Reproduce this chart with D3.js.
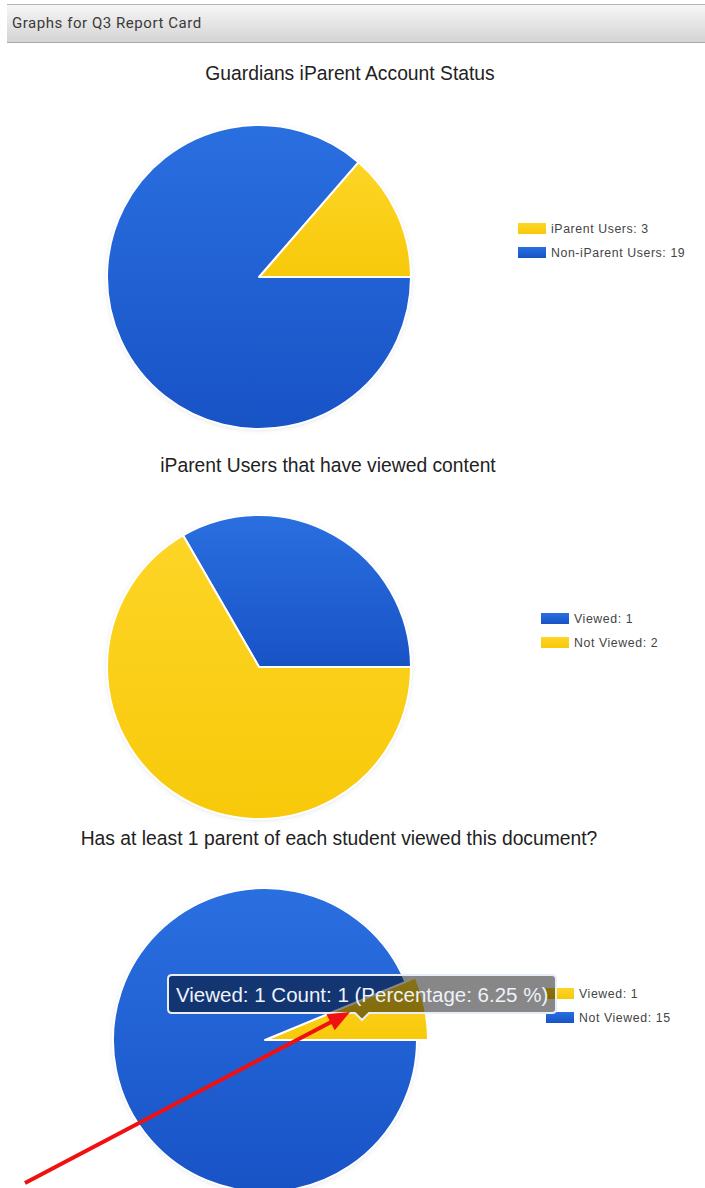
<!DOCTYPE html>
<html>
<head>
<meta charset="utf-8">
<script src="https://cdn.jsdelivr.net/npm/d3@7"></script>
<style>
  html, body { margin: 0; padding: 0; background: #fff; }
  svg { display: block; }
</style>
</head>
<body>
<script>
// page size
const w = 705;
const h = 1188;

// header
const pageTitle = "Graphs for Q3 Report Card";

// chart titles
const chartTitles = [
  "Guardians iParent Account Status",
  "iParent Users that have viewed content",
  "Has at least 1 parent of each student viewed this document?"
];

// chart 1
const accountLabels = ["iParent Users", "Non-iParent Users"];
const accountValues = [3, 19];

// chart 2
const contentLabels = ["Viewed", "Not Viewed"];
const contentValues = [1, 2];

// chart 3
const documentLabels = ["Viewed", "Not Viewed"];
const documentValues = [1, 15];

const YELLOW = "yellow", BLUE = "blue";

// layout of each chart (kept apart from the data)
var charts = [
  { title: chartTitles[0], labels: accountLabels, values: accountValues, colors: [YELLOW, BLUE],
    titleX: 350, titleY: 80, cx: 259, cy: 277, legendX: 518, legendY: 223 },
  { title: chartTitles[1], labels: contentLabels, values: contentValues, colors: [BLUE, YELLOW],
    titleX: 328, titleY: 472, cx: 259, cy: 667, legendX: 541, legendY: 613 },
  { title: chartTitles[2], labels: documentLabels, values: documentValues, colors: [YELLOW, BLUE],
    titleX: 339, titleY: 845, cx: 265, cy: 1040, legendX: 546, legendY: 988, hover: 0 }
];
const radius = 152;

var svg = d3.select("body")
  .append("svg")
  .attr("width", w)
  .attr("height", h);

var defs = svg.append("defs");

// gradients for the slices and header
function vGrad(id, top, bottom) {
  var g = defs.append("linearGradient").attr("id", id)
    .attr("x1", 0).attr("y1", 0).attr("x2", 0).attr("y2", 1);
  g.append("stop").attr("offset", "0%").attr("stop-color", top);
  g.append("stop").attr("offset", "100%").attr("stop-color", bottom);
}
vGrad("blue", "#2a6fe0", "#1853c6");
vGrad("yellow", "#fdd526", "#f8c90a");
vGrad("hdr", "#f7f7f7", "#d3d3d3");

var shadow = defs.append("filter").attr("id", "soft")
  .attr("x", "-10%").attr("y", "-10%").attr("width", "120%").attr("height", "120%");
shadow.append("feDropShadow").attr("dx", 0).attr("dy", 1)
  .attr("stdDeviation", 2.5).attr("flood-color", "#9aa3b5").attr("flood-opacity", 0.35);

// header bar
svg.append("rect")
  .attr("x", 7).attr("y", 4).attr("width", w - 7).attr("height", 39)
  .attr("fill", "url(#hdr)");
svg.append("line").attr("x1", 7).attr("x2", w).attr("y1", 4.5).attr("y2", 4.5)
  .attr("stroke", "#b3b3b3");
svg.append("line").attr("x1", 7).attr("x2", w).attr("y1", 42.5).attr("y2", 42.5)
  .attr("stroke", "#a9a9a9");
svg.append("text")
  .attr("x", 12).attr("y", 27.5)
  .attr("font-family", "Roboto, 'Liberation Sans', sans-serif")
  .attr("font-size", 15)
  .attr("letter-spacing", 0.55)
  .attr("fill", "#3a3a3a")
  .text(pageTitle);

// pies go counter-clockwise from 3 o'clock
var pie = d3.pie()
  .sort(null)
  .startAngle(Math.PI / 2)
  .endAngle(Math.PI / 2 - 2 * Math.PI);

charts.forEach(function(c) {
  svg.append("text")
    .attr("x", c.titleX).attr("y", c.titleY)
    .attr("text-anchor", "middle")
    .attr("font-family", "'Liberation Sans', Arial, sans-serif")
    .attr("font-size", 19.3)
    .attr("fill", "#222")
    .text(c.title);

  var g = svg.append("g")
    .attr("transform", "translate(" + c.cx + "," + c.cy + ")");

  var arcs = pie(c.values);

  // soft halo behind the pie
  g.append("circle").attr("r", radius).attr("fill", "#fff").attr("filter", "url(#soft)");

  g.selectAll("path")
    .data(arcs)
    .enter()
    .append("path")
    .attr("d", function(d, i) {
      var r = (i === c.hover) ? radius + 11 : radius;
      return d3.arc().innerRadius(0).outerRadius(r)(d);
    })
    .attr("fill", function(d, i) { return "url(#" + c.colors[i] + ")"; })
    .attr("stroke", "#fff")
    .attr("stroke-width", 2)
    .attr("stroke-linejoin", "round");

  // legend
  var lg = svg.append("g")
    .attr("transform", "translate(" + c.legendX + "," + c.legendY + ")");
  c.labels.forEach(function(lab, i) {
    lg.append("rect")
      .attr("x", 0).attr("y", i * 24)
      .attr("width", 28).attr("height", 11)
      .attr("fill", "url(#" + c.colors[i] + ")");
    lg.append("text")
      .attr("x", 33).attr("y", i * 24 + 10)
      .attr("font-family", "'Liberation Sans', Arial, sans-serif")
      .attr("font-size", 12.3)
      .attr("letter-spacing", 0.6)
      .attr("fill", "#444")
      .text(lab + ": " + c.values[i]);
  });
});

// tooltip over the hovered slice of chart 3
var c3 = charts[2];
var total = d3.sum(c3.values);
var tipText = c3.labels[0] + ": " + c3.values[0] + " Count: " + c3.values[0] +
  " (Percentage: " + d3.format(".2f")(c3.values[0] / total * 100) + " %)";

var tip = svg.append("g");
var tx = 168, ty = 975, tw = 388, th = 38, px = 362;
tip.append("path")
  .attr("d", "M" + (tx + 4) + "," + ty + " H" + (tx + tw - 4) + " Q" + (tx + tw) + "," + ty + " " + (tx + tw) + "," + (ty + 4) +
    " V" + (ty + th - 4) + " Q" + (tx + tw) + "," + (ty + th) + " " + (tx + tw - 4) + "," + (ty + th) +
    " H" + (px + 7) + " L" + px + "," + (ty + th + 7) + " L" + (px - 7) + "," + (ty + th) +
    " H" + (tx + 4) + " Q" + tx + "," + (ty + th) + " " + tx + "," + (ty + th - 4) +
    " V" + (ty + 4) + " Q" + tx + "," + ty + " " + (tx + 4) + "," + ty + "Z")
  .attr("fill", "rgba(0,0,0,0.47)")
  .attr("stroke", "#e8eef8")
  .attr("stroke-width", 2);
tip.append("text")
  .attr("x", tx + 8).attr("y", ty + 27)
  .attr("font-family", "'Liberation Sans', Arial, sans-serif")
  .attr("font-size", 20.5)
  .attr("fill", "#eef2fa")
  .text(tipText);

// red arrow pointing at the slice
var ax1 = 25, ay1 = 1183, ax2 = 350, ay2 = 1012;
var ang = Math.atan2(ay2 - ay1, ax2 - ax1);
var hl = 22, hw = 9;
svg.append("line")
  .attr("x1", ax1).attr("y1", ay1)
  .attr("x2", ax2 - hl * 0.8 * Math.cos(ang)).attr("y2", ay2 - hl * 0.8 * Math.sin(ang))
  .attr("stroke", "#f01010").attr("stroke-width", 4);
var bx = ax2 - hl * Math.cos(ang), by = ay2 - hl * Math.sin(ang);
svg.append("path")
  .attr("d", "M" + ax2 + "," + ay2 +
    " L" + (bx + hw * Math.sin(ang)) + "," + (by - hw * Math.cos(ang)) +
    " L" + (bx - hw * Math.sin(ang)) + "," + (by + hw * Math.cos(ang)) + "Z")
  .attr("fill", "#f01010");
</script>
</body>
</html>
